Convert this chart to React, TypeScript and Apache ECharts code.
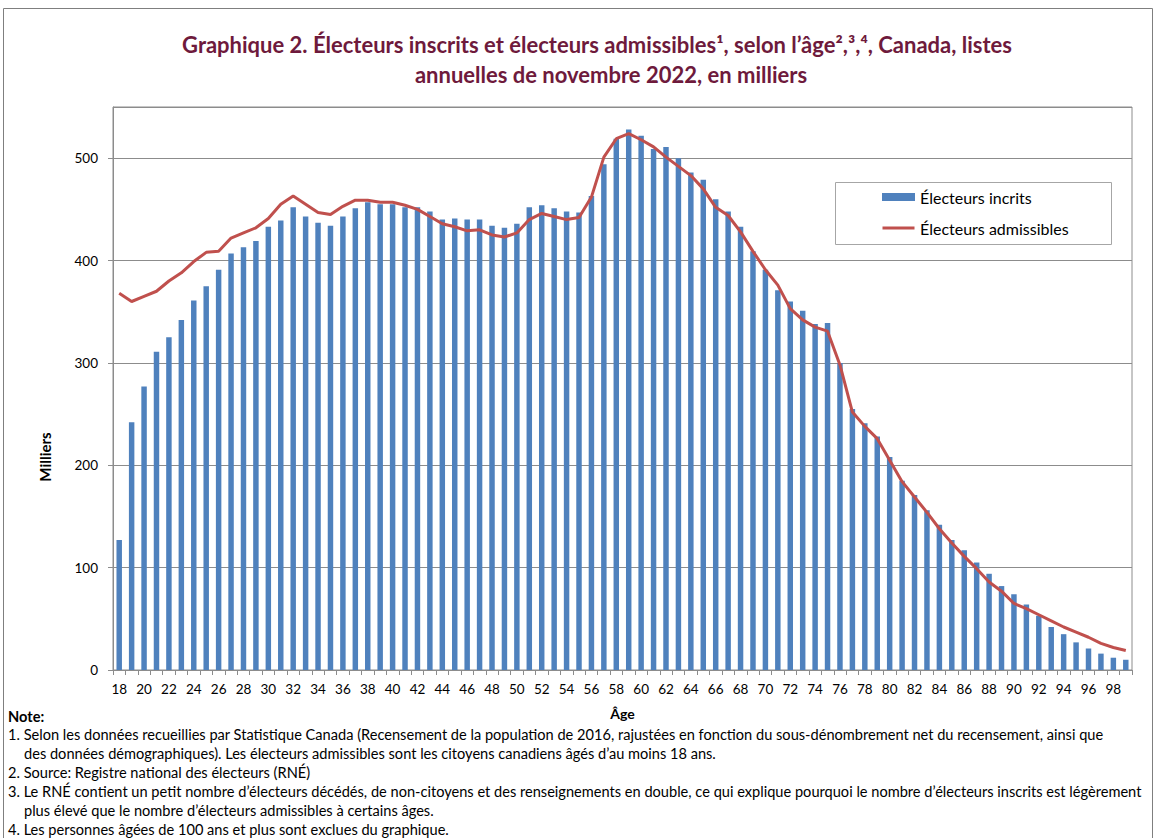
import React, { useEffect, useRef } from "react";
import * as echarts from "echarts";

const ages = [
  "18", "19", "20", "21", "22", "23", "24", "25", "26", "27", "28", "29",
  "30", "31", "32", "33", "34", "35", "36", "37", "38", "39", "40", "41",
  "42", "43", "44", "45", "46", "47", "48", "49", "50", "51", "52", "53",
  "54", "55", "56", "57", "58", "59", "60", "61", "62", "63", "64", "65",
  "66", "67", "68", "69", "70", "71", "72", "73", "74", "75", "76", "77",
  "78", "79", "80", "81", "82", "83", "84", "85", "86", "87", "88", "89",
  "90", "91", "92", "93", "94", "95", "96", "97", "98", "99",
];

const inscrits = [
  127, 242, 277, 311, 325, 342, 361, 375, 391, 407, 413, 419,
  433, 439, 452, 443, 437, 434, 443, 451, 457, 455, 455, 452,
  452, 448, 440, 441, 440, 440, 434, 432, 436, 452, 454, 451,
  448, 447, 463, 494, 519, 528, 522, 509, 511, 500, 486, 479,
  460, 448, 433, 409, 391, 371, 360, 351, 338, 339, 300, 255,
  241, 228, 208, 185, 171, 156, 142, 127, 117, 105, 94, 82,
  74, 64, 53, 42, 35, 27, 21, 16, 12, 10,
];

const admissibles = [
  368, 360, 365, 370, 380, 388, 399, 408, 409, 422, 427, 432,
  441, 455, 463, 455, 447, 445, 453, 459, 459, 457, 457, 454,
  450, 443, 436, 433, 429, 430, 425, 423, 427, 440, 446, 443,
  440, 442, 462, 501, 519, 524, 518, 511, 501, 492, 483, 470,
  452, 444, 428, 409, 391, 376, 353, 342, 335, 331, 298, 252,
  238, 226, 205, 184, 169, 154, 138, 124, 111, 99, 86, 77,
  65, 60, 54, 48, 42, 37, 32, 26, 22, 19,
];

const titleLines = [
  "Graphique 2. Électeurs inscrits et électeurs admissibles¹, selon l’âge²,³,⁴, Canada, listes",
  "annuelles de novembre 2022, en milliers",
];

const noteLines = [
  { t: "Note:", indent: false, bold: true },
  { t: "1. Selon les données recueillies par Statistique Canada (Recensement de la population de 2016, rajustées en fonction du sous-dénombrement net du recensement, ainsi que", indent: false, bold: false },
  { t: "des données démographiques). Les électeurs admissibles sont les citoyens canadiens âgés d’au moins 18 ans.", indent: true, bold: false },
  { t: "2. Source: Registre national des électeurs (RNÉ)", indent: false, bold: false },
  { t: "3. Le RNÉ contient un petit nombre d’électeurs décédés, de non-citoyens et des renseignements en double, ce qui explique pourquoi le nombre d’électeurs inscrits est légèrement", indent: false, bold: false },
  { t: "plus élevé que le nombre d’électeurs admissibles à certains âges.", indent: true, bold: false },
  { t: "4. Les personnes âgées de 100 ans et plus sont exclues du graphique.", indent: false, bold: false },
];

const FONT = "Lato, 'Open Sans', sans-serif";

export default function App() {
  const ref = useRef<HTMLDivElement>(null);

  useEffect(() => {
    if (!ref.current) return;
    const chart = echarts.init(ref.current, null, { renderer: "svg" });

    const noteY = [716, 734, 753, 772, 791, 810, 829];
    const titleX = [597, 611];
    const graphics: any[] = [
      {
        type: "rect",
        shape: { x: 3.5, y: 8.5, width: 1149, height: 900 },
        style: { fill: "none", stroke: "#7f7f7f", lineWidth: 1 },
        silent: true,
      },
      {
        type: "rect",
        shape: { x: 835.5, y: 182.5, width: 276, height: 62 },
        style: { fill: "#fff", stroke: "#a6a6a6", lineWidth: 1 },
        z: -1,
        silent: true,
      },
      ...titleLines.map((t, i) => ({
        type: "text",
        x: titleX[i],
        y: 44 + i * 30,
        style: {
          text: t,
          font: `bold 22px ${FONT}`,
          fill: "#6E1A3C",
          textAlign: "center",
          align: "center",
          textVerticalAlign: "middle",
          verticalAlign: "middle",
        },
      })),
      {
        type: "text",
        x: 45,
        y: 457,
        rotation: Math.PI / 2,
        style: {
          text: "Milliers",
          font: `bold 15px ${FONT}`,
          fill: "#000",
          textAlign: "center",
          align: "center",
          textVerticalAlign: "middle",
          verticalAlign: "middle",
        },
      },
      ...noteLines.map((n, i) => ({
        type: "text",
        x: n.indent ? 24 : 8,
        y: noteY[i],
        style: {
          text: n.t,
          font: `${n.bold ? "bold " : ""}14.6px ${FONT}`,
          fill: "#000",
          textAlign: "left",
          align: "left",
          textVerticalAlign: "middle",
          verticalAlign: "middle",
        },
      })),
    ];

    chart.setOption({
      animation: false,
      textStyle: { fontFamily: FONT },
      grid: {
        left: 113,
        right: 24,
        top: 107,
        bottom: 168,
        show: true,
        borderColor: "#8c8c8c",
        borderWidth: 1,
      },
      legend: {
        orient: "vertical",
        left: 882,
        top: 189,
        padding: 0,
        itemWidth: 33,
        itemHeight: 8,
        itemGap: 15,
        textStyle: { fontSize: 16, color: "#000", fontFamily: FONT },
        data: [
          { name: "Électeurs incrits", icon: "rect" },
          { name: "Électeurs admissibles", icon: "path://M0,0 M0,2.5 L32,2.5 L32,5.5 L0,5.5 Z M32,8" },
        ],
      },
      xAxis: {
        type: "category",
        data: ages,
        boundaryGap: true,
        name: "Âge",
        nameLocation: "middle",
        nameGap: 36,
        nameTextStyle: { fontWeight: "bold", fontSize: 14, color: "#000", fontFamily: FONT },
        axisLine: { show: true, lineStyle: { color: "#8c8c8c", width: 1 } },
        axisTick: { show: true, interval: 0, length: 5, lineStyle: { color: "#8c8c8c" } },
        axisLabel: { interval: 1, fontSize: 13.5, color: "#000", margin: 12, fontFamily: FONT },
        splitLine: { show: false },
      },
      yAxis: {
        type: "value",
        min: 0,
        max: 550,
        interval: 100,
        axisLine: { show: true, lineStyle: { color: "#8c8c8c", width: 1 } },
        axisTick: { show: true, length: 5, lineStyle: { color: "#8c8c8c" } },
        axisLabel: { fontSize: 13.5, color: "#000", margin: 15, showMaxLabel: false, fontFamily: FONT },
        splitLine: { show: true, lineStyle: { color: "#8c8c8c", width: 1 } },
      },
      series: [
        {
          type: "bar",
          name: "Électeurs incrits",
          data: inscrits,
          barWidth: "44%",
          itemStyle: { color: "#4F81BD" },
        },
        {
          type: "line",
          name: "Électeurs admissibles",
          data: admissibles,
          symbol: "none",
          showSymbol: false,
          lineStyle: { color: "#C0504D", width: 3 },
          itemStyle: { color: "#C0504D" },
          z: 3,
        },
      ],
      graphic: graphics,
    });

    return () => chart.dispose();
  }, []);

  return (
    <div
      ref={ref}
      style={{ position: "fixed", left: 0, top: 0, width: 1156, height: 838, background: "#fff" }}
    />
  );
}
